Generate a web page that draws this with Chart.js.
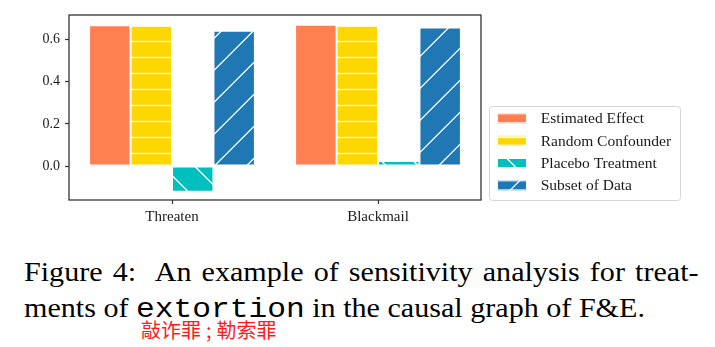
<!DOCTYPE html>
<html>
<head>
<meta charset="utf-8">
<script src="https://cdn.jsdelivr.net/npm/chart.js@4.4.1/dist/chart.umd.min.js"></script>
<style>
  html, body { margin: 0; padding: 0; background: #fff; }
  body { width: 715px; height: 347px; position: relative; overflow: hidden; }
  #chartBox { position: absolute; left: 0; top: 0; width: 715px; height: 232px; }
  .caption {
    position: absolute; left: 24px;
    font-family: "Liberation Serif", serif; font-size: 27px; line-height: 27px; color: #000;
    transform: scaleX(1.115); transform-origin: 0 0;
  }
  #line1 { top: 259px; width: 605px; text-align: justify; text-align-last: justify; }
  #line2 { top: 295px; white-space: nowrap; }
  .code { font-family: "Liberation Mono", monospace; font-size: 28px; }
  #note { position: absolute; left: 141px; top: 320px; font-family: "Noto Sans CJK SC", sans-serif; font-size: 20px; line-height: 20px; color: #ff1a1a; white-space: nowrap; }
  #note .sep { margin: 0 5px; }
</style>
</head>
<body>
<div id="chartBox"><canvas id="sensChart"></canvas></div>
<div class="caption" id="line1">Figure 4:&nbsp; An example of sensitivity analysis for treat-</div>
<div class="caption" id="line2">ments of <span class="code">extortion</span> in the causal graph of F&amp;E.</div>
<div id="note">敲诈罪<span class="sep">;</span>勒索罪</div>

<script>
// Data
const categories = ['Threaten', 'Blackmail'];
const seriesNames = ['Estimated Effect', 'Random Confounder', 'Placebo Treatment', 'Subset of Data'];
const estimatedEffect = [0.667, 0.670];
const randomConfounder = [0.665, 0.665];
const placeboTreatment = [-0.122, 0.024];
const subsetOfData = [0.641, 0.657];
const yTicks = [0.0, 0.2, 0.4, 0.6];
const yRange = [-0.161, 0.716];

const serif = 'Liberation Serif';

// Hatched fills, tiled from the canvas origin so bars and legend share the phase
function hatch(base, kind) {
    const size = kind === '-' ? 16 : 32;
    const c = document.createElement('canvas');
    c.width = size;
    c.height = size;
    const g = c.getContext('2d');
    g.fillStyle = base;
    g.fillRect(0, 0, size, size);
    g.strokeStyle = '#ffffff';
    g.lineWidth = 1.3;
    g.beginPath();
    if (kind === '-') {
        g.moveTo(0, 9.5);
        g.lineTo(size, 9.5);
    } else if (kind === '/') {
        [-3.7, 28.3, 60.3].forEach(k => {
            g.moveTo(k + 1, -1);
            g.lineTo(k - size - 1, size + 1);
        });
    } else if (kind === '\\') {
        [-35.5, -3.5, 28.5].forEach(k => {
            g.moveTo(k - 1, -1);
            g.lineTo(k + size + 1, size + 1);
        });
    }
    g.stroke();
    return g.createPattern(c, 'repeat');
}

const ctx = document.getElementById('sensChart').getContext('2d');

const fills = [
    '#ff7f50',
    hatch('#ffd700', '-'),
    hatch('#00bfbf', '\\'),
    hatch('#1f77b4', '/')
];
const values = [estimatedEffect, randomConfounder, placeboTreatment, subsetOfData];

// Axes frame drawn on all four sides
const framePlugin = {
    id: 'frame',
    afterDatasetsDraw(chart) {
        const a = chart.chartArea;
        const c = chart.ctx;
        c.save();
        c.strokeStyle = '#333333';
        c.lineWidth = 1.3;
        c.strokeRect(a.left, a.top, a.right - a.left, a.bottom - a.top);
        c.restore();
    }
};

// Boxed legend to the right of the axes
const legendPlugin = {
    id: 'sideLegend',
    afterDraw(chart) {
        const c = chart.ctx;
        c.save();
        c.beginPath();
        c.roundRect(489.5, 106.5, 191, 94, 3);
        c.fillStyle = 'rgba(255,255,255,0.8)';
        c.fill();
        c.strokeStyle = '#d6d6d6';
        c.lineWidth = 1;
        c.stroke();
        chart.data.datasets.forEach((ds, i) => {
            const y = 118.3 + i * 22.35;
            c.fillStyle = ds.backgroundColor;
            c.fillRect(497, y - 5, 30, 10);
            c.strokeStyle = '#ffffff';
            c.strokeRect(497.5, y - 4.5, 29, 9);
            c.fillStyle = '#1a1a1a';
            c.font = '15.5px "' + serif + '"';
            c.textBaseline = 'middle';
            c.textAlign = 'left';
            c.fillText(ds.label, 540.7, y + 1);
        });
        c.restore();
    }
};

new Chart(ctx, {
    type: 'bar',
    data: {
        labels: categories,
        datasets: seriesNames.map((name, i) => ({
            label: name,
            data: values[i],
            backgroundColor: fills[i],
            borderColor: '#ffffff',
            borderWidth: 1,
            borderSkipped: false,
            categoryPercentage: 0.805,
            barPercentage: 1.0
        }))
    },
    options: {
        responsive: true,
        maintainAspectRatio: false,
        animation: false,
        layout: { padding: { left: 0, top: 15, right: 234, bottom: 0 } },
        plugins: {
            legend: { display: false },
            tooltip: { enabled: false }
        },
        scales: {
            x: {
                afterFit: axis => { axis.height = 32; },
                grid: { offset: false, drawOnChartArea: false, tickLength: 4, tickColor: '#333333', tickWidth: 1.2 },
                border: { display: false },
                ticks: { font: { family: serif, size: 15 }, color: '#1a1a1a', padding: 4 }
            },
            y: {
                min: yRange[0],
                max: yRange[1],
                afterBuildTicks: axis => { axis.ticks = yTicks.map(v => ({ value: v })); },
                afterFit: axis => { axis.width = 69; },
                grid: { drawOnChartArea: false, tickLength: 4, tickColor: '#333333', tickWidth: 1.2 },
                border: { display: false },
                ticks: {
                    font: { family: serif, size: 14 },
                    color: '#1a1a1a',
                    padding: 5,
                    callback: v => Number(v).toFixed(1)
                }
            }
        }
    },
    plugins: [framePlugin, legendPlugin]
});
</script>
</body>
</html>
